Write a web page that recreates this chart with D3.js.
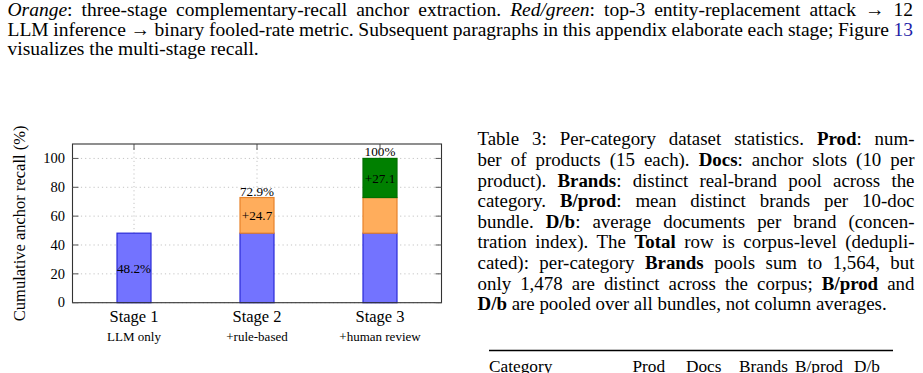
<!DOCTYPE html>
<html lang="en">
<head>
    <meta charset="UTF-8">
    <title>Anchor recall by stage</title>
    <script src="https://d3js.org/d3.v7.min.js"></script>
    <style>
        body { margin: 0; background: #fff; }
        #page { position: relative; width: 923px; height: 373px; overflow: hidden; font-family: "Liberation Serif", "DejaVu Serif", serif; color: #000; }
        svg { position: absolute; left: 0; top: 0; }
        .line { position: absolute; white-space: nowrap; line-height: 20px; }
        .link { color: #1f1fa8; }
        text { font-family: "Liberation Serif", "DejaVu Serif", serif; fill: #000; }
    </style>
</head>
<body>
<div id="page"></div>
<script>
    // chart data
    const stages = ['Stage 1', 'Stage 2', 'Stage 3'];
    const stageNotes = ['LLM only', '+rule-based', '+human review'];
    const llmRecall = [48.2, 48.2, 48.2];
    const ruleGain = [0, 24.7, 24.7];
    const humanGain = [0, 0, 27.1];
    const innerLabels = ['48.2%', '+24.7', '+27.1'];   // label sits in the segment each stage adds
    const topLabels = ['', '72.9%', '100%'];
    const yTicks = [0, 20, 40, 60, 80, 100];

    // surrounding page text
    const introLines = [
        '<i>Orange</i>: three-stage complementary-recall anchor extraction. <i>Red/green</i>: top-3 entity-replacement attack \u2192 12',
        'LLM inference \u2192 binary fooled-rate metric. Subsequent paragraphs in this appendix elaborate each stage; Figure <span class="link">13</span>',
        'visualizes the multi-stage recall.'
    ];
    const captionLines = [
        'Table 3: Per-category dataset statistics. <b>Prod</b>: num-',
        'ber of products (15 each). <b>Docs</b>: anchor slots (10 per',
        'product). <b>Brands</b>: distinct real-brand pool across the',
        'category. <b>B/prod</b>: mean distinct brands per 10-doc',
        'bundle. <b>D/b</b>: average documents per brand (concen-',
        'tration index). The <b>Total</b> row is corpus-level (dedupli-',
        'cated): per-category <b>Brands</b> pools sum to 1,564, but',
        'only 1,478 are distinct across the corpus; <b>B/prod</b> and',
        '<b>D/b</b> are pooled over all bundles, not column averages.'
    ];
    const tableHeader = ['Category', 'Prod', 'Docs', 'Brands', 'B/prod', 'D/b'];
    const headerX = [489, 632.5, 686, 739, 795, 854];

    const page = d3.select('#page');

    // one absolutely placed line per row; all but the last are stretched
    // to the column width with word-spacing
    function addLines(lines, x, width, firstBase, step, size) {
        const baseOff = 10 + 0.3375 * size;   // baseline inside a 20px line box (Liberation Serif)
        lines.forEach((html, i) => {
            const div = page.append('div')
                .attr('class', 'line')
                .style('left', x + 'px')
                .style('top', (firstBase + i * step - baseOff) + 'px')
                .style('font-size', size + 'px')
                .html(html);
            if (i < lines.length - 1) {
                const node = div.node();
                const natural = node.getBoundingClientRect().width;
                const gaps = (node.textContent.match(/ /g) || []).length;
                if (gaps) div.style('word-spacing', ((width - natural) / gaps) + 'px');
            }
        });
    }
    addLines(introLines, 7.5, 905.5, 17, 19.5, 19.5);
    addLines(captionLines, 477.5, 437, 145.8, 20.6, 18.9);

    const svg = page.append('svg')
        .attr('width', 923)
        .attr('height', 373);

    // table stub
    svg.append('line')
        .attr('x1', 489).attr('x2', 893)
        .attr('y1', 350.5).attr('y2', 350.5)
        .attr('stroke', '#000').attr('stroke-width', 1.4);
    svg.selectAll('.th')
        .data(tableHeader)
        .enter().append('text')
        .attr('class', 'th')
        .attr('x', (d, i) => headerX[i])
        .attr('y', 371.5)
        .attr('font-size', 17.3)
        .text(d => d);

    // chart frame
    const plotLeft = 72.5, plotRight = 441.5, plotTop = 144, plotBottom = 302.7;
    const barWidth = 34;

    const x = d3.scalePoint()
        .domain(stages)
        .range([plotLeft, plotRight])
        .padding(0.5);

    const y = d3.scaleLinear()
        .domain([0, 110])
        .range([plotBottom, plotTop]);

    const g = svg.append('g');

    // dotted grid
    g.append('g')
        .selectAll('line')
        .data(yTicks)
        .enter().append('line')
        .attr('x1', plotLeft).attr('x2', plotRight)
        .attr('y1', d => y(d)).attr('y2', d => y(d))
        .attr('stroke', '#c4c4c4')
        .attr('stroke-dasharray', '1.2,3');
    g.append('g')
        .selectAll('line')
        .data(stages)
        .enter().append('line')
        .attr('x1', d => x(d)).attr('x2', d => x(d))
        .attr('y1', plotTop).attr('y2', plotBottom)
        .attr('stroke', '#c4c4c4')
        .attr('stroke-dasharray', '1.2,3');

    // stacked bars
    const rows = stages.map((s, i) => ({ stage: s, llm: llmRecall[i], rule: ruleGain[i], human: humanGain[i] }));
    const series = d3.stack().keys(['llm', 'rule', 'human'])(rows);
    const fills = { llm: '#7373ff', rule: '#ffad5c', human: '#008000' };
    const strokes = { llm: '#2a2ad8', rule: '#e8832a', human: '#007000' };

    series.forEach(s => {
        g.append('g')
            .selectAll('rect')
            .data(s.filter(d => d[1] > d[0]))
            .enter().append('rect')
            .attr('x', d => x(d.data.stage) - barWidth / 2)
            .attr('width', barWidth)
            .attr('y', d => y(d[1]))
            .attr('height', d => y(d[0]) - y(d[1]))
            .attr('fill', fills[s.key])
            .attr('stroke', strokes[s.key])
            .attr('stroke-width', 1.2);
    });

    // each stage labels the segment it adds (series index == stage index)
    const added = stages.map((s, i) => {
        const d = series[i][i];
        return { stage: s, mid: (d[0] + d[1]) / 2, top: d[1] };
    });
    g.selectAll('.inner')
        .data(added)
        .enter().append('text')
        .attr('class', 'inner')
        .attr('x', d => x(d.stage))
        .attr('y', d => y(d.mid))
        .attr('dy', '0.35em')
        .attr('text-anchor', 'middle')
        .attr('font-size', 13.2)
        .text((d, i) => innerLabels[i]);
    g.selectAll('.toplab')
        .data(added)
        .enter().append('text')
        .attr('class', 'toplab')
        .attr('x', d => x(d.stage))
        .attr('y', d => y(d.top) - 2)
        .attr('text-anchor', 'middle')
        .attr('font-size', 13.2)
        .text((d, i) => topLabels[i]);

    // frame and inward ticks
    g.append('rect')
        .attr('x', plotLeft).attr('y', plotTop)
        .attr('width', plotRight - plotLeft).attr('height', plotBottom - plotTop)
        .attr('fill', 'none')
        .attr('stroke', '#333')
        .attr('stroke-width', 1.1);
    const tickLen = 6;
    yTicks.forEach(t => {
        g.append('line').attr('x1', plotLeft).attr('x2', plotLeft + tickLen)
            .attr('y1', y(t)).attr('y2', y(t)).attr('stroke', '#555');
        g.append('line').attr('x1', plotRight).attr('x2', plotRight - tickLen)
            .attr('y1', y(t)).attr('y2', y(t)).attr('stroke', '#555');
    });
    stages.forEach(s => {
        g.append('line').attr('x1', x(s)).attr('x2', x(s))
            .attr('y1', plotTop).attr('y2', plotTop + tickLen).attr('stroke', '#555');
    });

    // axis text
    g.selectAll('.ytick')
        .data(yTicks)
        .enter().append('text')
        .attr('class', 'ytick')
        .attr('x', 65)
        .attr('y', d => y(d))
        .attr('dy', '0.33em')
        .attr('text-anchor', 'end')
        .attr('font-size', 14.5)
        .text(d => d);

    g.selectAll('.stage')
        .data(stages)
        .enter().append('text')
        .attr('class', 'stage')
        .attr('x', d => x(d))
        .attr('y', 322)
        .attr('text-anchor', 'middle')
        .attr('font-size', 16.5)
        .text(d => d);
    g.selectAll('.note')
        .data(stages)
        .enter().append('text')
        .attr('class', 'note')
        .attr('x', d => x(d))
        .attr('y', 341)
        .attr('text-anchor', 'middle')
        .attr('font-size', 13)
        .text((d, i) => stageNotes[i]);

    g.append('text')
        .attr('transform', `translate(24.5,${(plotTop + plotBottom) / 2}) rotate(-90)`)
        .attr('text-anchor', 'middle')
        .attr('font-size', 16.5)
        .text('Cumulative anchor recall (%)');
</script>
</body>
</html>
